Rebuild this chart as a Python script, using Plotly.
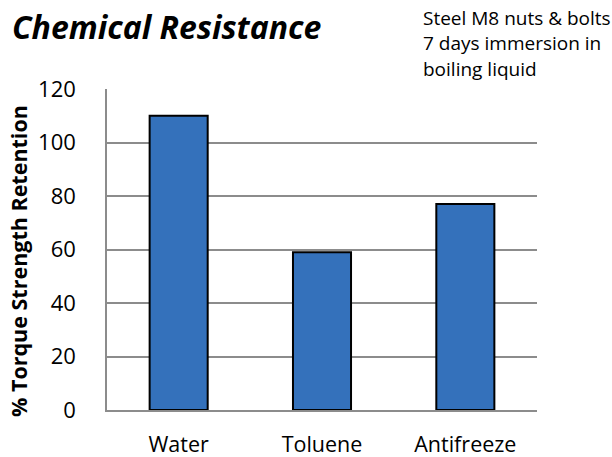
import plotly.graph_objects as go

categories = ["Water", "Toluene", "Antifreeze"]
retention = [110, 59, 77]
y_ticks = [0, 20, 40, 60, 80, 100, 120]
note_lines = ["Steel M8 nuts & bolts", "7 days immersion in", "boiling liquid"]

W, H = 612, 457
L, R, T, B = 107, 75, 89, 47
pw, ph = W - L - R, H - T - B

def px_x(x):
    return (x - L) / pw

def px_y(y):
    return (H - B - y) / ph

fig = go.Figure()
fig.add_trace(go.Bar(
    x=categories, y=retention, width=0.405,
    marker=dict(color="#3471bb", line=dict(color="#000000", width=2)),
))

FONT = "Open Sans"
fig.update_layout(
    width=W, height=H,
    margin=dict(l=L, r=R, t=T, b=B),
    paper_bgcolor="white", plot_bgcolor="white",
    showlegend=False,
    font=dict(family=FONT, color="#000000"),
    xaxis=dict(showgrid=False, showline=True, linecolor="#8c8c8c", linewidth=1.5,
               tickfont=dict(size=21.5, family=FONT), ticks="", ticklabelstandoff=14,
               automargin=False, fixedrange=True),
    yaxis=dict(range=[0, 120], tickvals=y_ticks, showgrid=True, gridcolor="#8c8c8c",
               gridwidth=1.7, showline=True, linecolor="#8c8c8c", linewidth=1.5,
               zeroline=False, tickfont=dict(size=22, family=FONT), ticks="",
               ticklabelstandoff=25, automargin=False, fixedrange=True),
)

annotations = [
    dict(text="<b><i>Chemical Resistance</i></b>", xref="paper", yref="paper",
         x=px_x(10), y=px_y(26), xanchor="left", yanchor="middle", showarrow=False,
         font=dict(size=32, family=FONT)),
    dict(text="<b>% Torque Strength Retention</b>", xref="paper", yref="paper",
         x=px_x(18), y=px_y(261), xanchor="center", yanchor="middle", textangle=-90,
         showarrow=False, font=dict(size=21.5, family=FONT)),
]
for i, line in enumerate(note_lines):
    annotations.append(dict(text=line, xref="paper", yref="paper",
                            x=px_x(421), y=px_y(18 + 25.5 * i), xanchor="left", yanchor="middle",
                            showarrow=False, font=dict(size=19, family=FONT)))
fig.update_layout(annotations=annotations)

fig.add_shape(type="rect", xref="paper", yref="paper", x0=px_x(403), x1=px_x(545),
              y0=px_y(84), y1=px_y(95), fillcolor="white", line=dict(width=0), layer="above")

fig.write_html("out.html", post_script="document.body.style.margin='0';",
               config={"displayModeBar": False})
